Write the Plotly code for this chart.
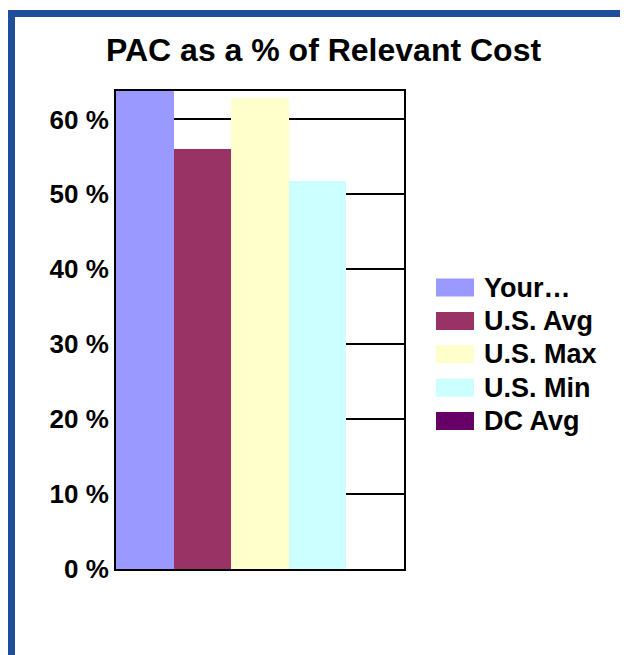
import plotly.graph_objects as go

# Data
categories = ["PAC"]
series_names = ["Your…", "U.S. Avg", "U.S. Max", "U.S. Min", "DC Avg"]
series_values = [64.5, 56.0, 62.9, 51.8, 0.0]
series_colors = ["#9999ff", "#993366", "#ffffcc", "#ccffff", "#660066"]
tick_values = [0, 10, 20, 30, 40, 50, 60]
tick_labels = [f"{v} %" for v in tick_values]

W, H = 628, 655
L, R, T, B = 108, 396, 83, 561  # plot area in figure pixels


def px(x):
    return (x - L) / (R - L)


def py(y):
    return (B - y) / (B - T)


fig = go.Figure()
for name, val, col in zip(series_names, series_values, series_colors):
    fig.add_trace(go.Bar(x=categories, y=[val], name=name, marker=dict(color=col, line=dict(width=0)),
                         showlegend=False))

font_family = "Liberation Sans, Arial, sans-serif"

shapes = [
    # blue page frame
    dict(type="rect", xref="paper", yref="paper", x0=px(0), x1=px(7), y0=py(H), y1=py(2),
         fillcolor="#1f4e9a", line=dict(width=0), layer="above"),
    dict(type="rect", xref="paper", yref="paper", x0=px(0), x1=px(W), y0=py(9), y1=py(2),
         fillcolor="#1f4e9a", line=dict(width=0), layer="above"),
]
annotations = []
# legend
leg_x0, leg_y0, leg_dy = 428, 279.5, 33.4
for i, (name, col) in enumerate(zip(series_names, series_colors)):
    cy = leg_y0 + i * leg_dy
    shapes.append(dict(type="rect", xref="paper", yref="paper", x0=px(leg_x0), x1=px(leg_x0 + 38),
                       y0=py(cy + 9), y1=py(cy - 9), fillcolor=col, line=dict(width=0)))
    annotations.append(dict(xref="paper", yref="paper", x=px(474), y=py(cy), text=f"<b>{name}</b>",
                            showarrow=False, xanchor="left", yanchor="middle",
                            font=dict(size=27, color="black", family=font_family)))

annotations.append(dict(xref="paper", yref="paper", x=px(315.5), y=py(42), text="<b>PAC as a % of Relevant Cost</b>",
                        showarrow=False, xanchor="center", yanchor="middle",
                        font=dict(size=32, color="black", family=font_family)))

fig.update_layout(
    width=W, height=H,
    margin=dict(l=L, r=W - R, t=T, b=H - B, pad=0),
    paper_bgcolor="white", plot_bgcolor="white",
    barmode="group", bargap=0, bargroupgap=0,
    shapes=shapes, annotations=annotations,
    font=dict(family=font_family, color="black"),
    xaxis=dict(showticklabels=False, showgrid=False, zeroline=False, showline=True, linecolor="black",
               linewidth=2, mirror=True, ticks="", fixedrange=True),
    yaxis=dict(range=[0, 63.8], tickvals=tick_values, ticktext=[f"<b>{t}</b>" for t in tick_labels],
               tickfont=dict(size=26, color="black", family=font_family),
               showgrid=True, gridcolor="black", gridwidth=1.5, zeroline=False,
               showline=True, linecolor="black", linewidth=2, mirror=True, ticks="", ticklen=0,
               ticklabelstandoff=0),
)

fig.write_html("out.html")
